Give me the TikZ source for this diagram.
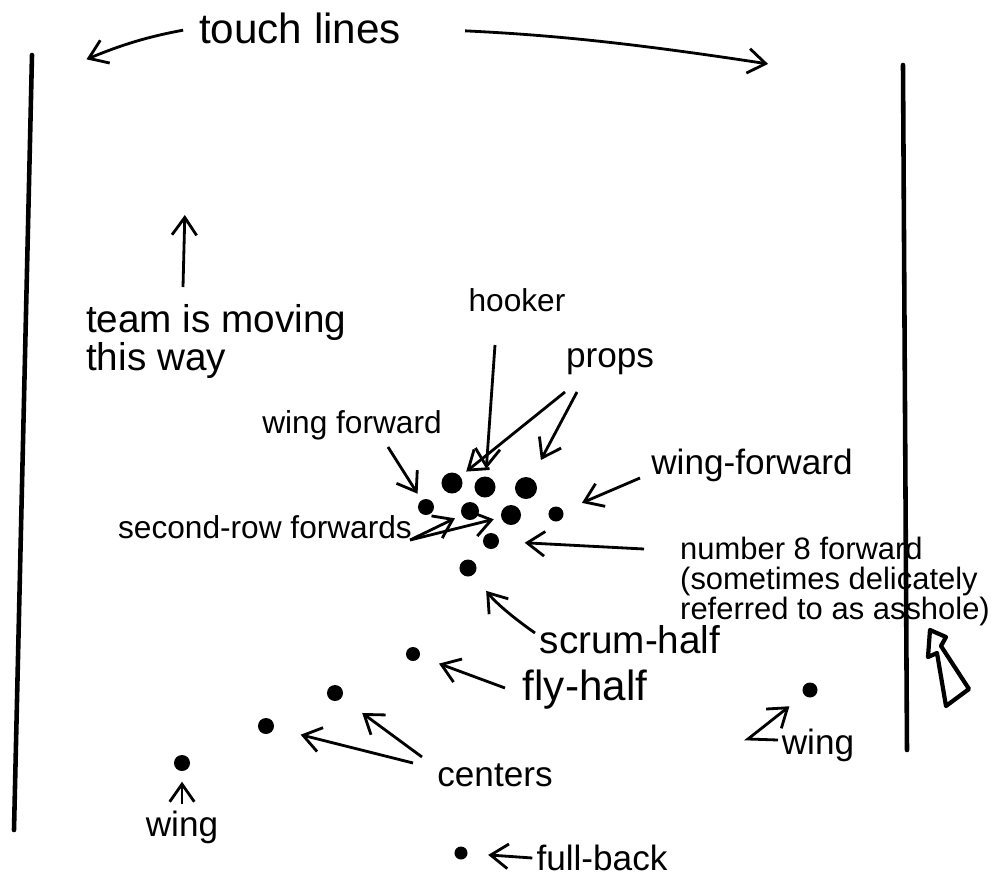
\documentclass[tikz,border=0pt]{standalone}
\usepackage{fontspec}
\setmainfont{Liberation Sans}
\usetikzlibrary{arrows.meta, calc}
\tikzset{
  player/.style={circle, fill=black, draw=none, inner sep=0pt, minimum size=0.16cm},
  bigplayer/.style={player, minimum size=0.21cm},
  smallplayer/.style={player, minimum size=0.13cm},
  lbl/.style={inner sep=1pt, font=\fontsize{10}{10}\selectfont},
  arr/.style={-{Straight Barb[length=5pt,width=7pt]}, line width=0.8pt, black, shorten >=2pt},
  touchline/.style={line width=1.3pt, line cap=round}
}

\begin{document}
\begin{tikzpicture}[x=0.01cm, y=-0.01cm]
\useasboundingbox (0,0) rectangle (996,875);

% ===== TOUCH LINES =====
\draw[touchline] (32,55) -- (14,830);
\draw[touchline] (903,65) -- (907,750);

% ===== SCRUM =====
\node[bigplayer] (P1) at (452,483) {};
\node[bigplayer] (HK) at (485,487) {};
\node[bigplayer, minimum size=0.22cm] (P2) at (526,488) {};
\node[player] (WF1) at (426,507) {};
\node[player, minimum size=0.18cm] (SR1) at (470,511) {};
\node[player, minimum size=0.2cm] (SR2) at (511,515) {};
\node[player, minimum size=0.15cm] (WF2) at (556,514) {};
\node[player] (N8) at (491,541) {};
\node[player, minimum size=0.17cm] (SH) at (468,568) {};

% ===== BACKS =====
\node[smallplayer, minimum size=0.14cm] (FH) at (413,654) {};
\node[player] (C1) at (335,693) {};
\node[player] (C2) at (266,726) {};
\node[player] (W1) at (182,763) {};
\node[smallplayer, minimum size=0.15cm] (W2) at (810,690) {};
\node[smallplayer] (FB) at (461,853) {};

% ===== LABELS =====
\node[lbl, font=\fontsize{12}{12}\selectfont] (tTouch) at (300,28) {touch lines};
\node[lbl, font=\fontsize{11}{11}\selectfont, align=left, anchor=north west] (tTeam) at (82,300) {team is moving\\this way};
\node[lbl, font=\fontsize{9}{9}\selectfont] (tHK) at (517,300) {hooker};
\node[lbl] (tPR) at (610,362) {props};
\node[lbl, font=\fontsize{9}{9}\selectfont] (tWF1) at (352,425) {wing forward};
\node[lbl] (tWF2) at (752,465) {wing-forward};
\node[lbl, font=\fontsize{9}{9}\selectfont] (tSR) at (265,527) {second-row forwards};
\node[lbl, font=\fontsize{8.8}{8.5}\selectfont, align=left, anchor=north west] (tN8) at (676,533)
  {number 8 forward\\(sometimes delicately\\referred to as asshole)};
\node[lbl, font=\fontsize{11}{11}\selectfont] (tSH) at (630,640) {scrum-half};
\node[lbl, font=\fontsize{12}{12}\selectfont] (tFH) at (585,690) {fly-half};
\node[lbl] (tCE) at (495,775) {centers};
\node[lbl] (tW2) at (818,745) {wing};
\node[lbl] (tW1) at (182,827) {wing};
\node[lbl] (tFB) at (602,858) {full-back};

\coordinate (upTip) at (185,208);
\coordinate (tlLeft) at (80,62);
\coordinate (tlRight) at (775,65);

% ===== ARROWS =====
\draw[arr, shorten <=0.12cm] (tTouch.west) to[bend right=6] (tlLeft);
\draw[arr, shorten <=0.6cm] (tTouch.east) to[bend left=3] (tlRight);
\draw[arr] ($(tTeam.north west)+(101,-13)$) -- (upTip);

\draw[arr] ($(tHK)+(-22,45)$) -- (HK);
\draw[arr] ($(tPR)+(-45,30)$) -- (P1);
\draw[arr, shorten >=0.2cm] ($(tPR)+(-33,30)$) -- (P2);
\draw[arr] ($(tWF1)+(36,22)$) -- (WF1);
\draw[arr, shorten >=0.2cm] ($(tWF2)+(-112,13)$) -- (WF2);
\draw[arr] ($(tSR.east)+(-6,13)$) -- (SR1);
\draw[arr] ($(tSR.east)+(-6,13)$) -- (SR2);
\draw[arr, shorten >=0.25cm] ($(tN8.north west)+(-32,16)$) -- (N8);
\draw[arr, shorten >=0.2cm] ($(tSH)+(-95,-7)$) to[bend left=8] (SH);

\draw[arr, shorten >=0.2cm] ($(tFH)+(-80,-2)$) -- (FH);
\draw[arr, shorten >=0.25cm] ($(tCE)+(-73,-18)$) -- (C1);
\draw[arr, shorten >=0.27cm] ($(tCE)+(-82,-12)$) -- (C2);
\draw[arr, shorten >=0.18cm] ($(tW2)+(-40,-5)$) -- ($(tW2)+(-70,-6)$) -- (W2);
\draw[arr, shorten <=0.02cm, shorten >=0.1cm] (tW1.north) -- (W1);
\draw[arr, shorten >=0.2cm] (tFB.west) -- (FB);

% ===== HOLLOW ARROW =====
\draw[line width=1.2pt, line join=round] (930,630) -- (946,637) -- (941,646) -- (969,689)
  -- (946,706) -- (937,653) -- (928,657) -- cycle;

\end{tikzpicture}
\end{document}
